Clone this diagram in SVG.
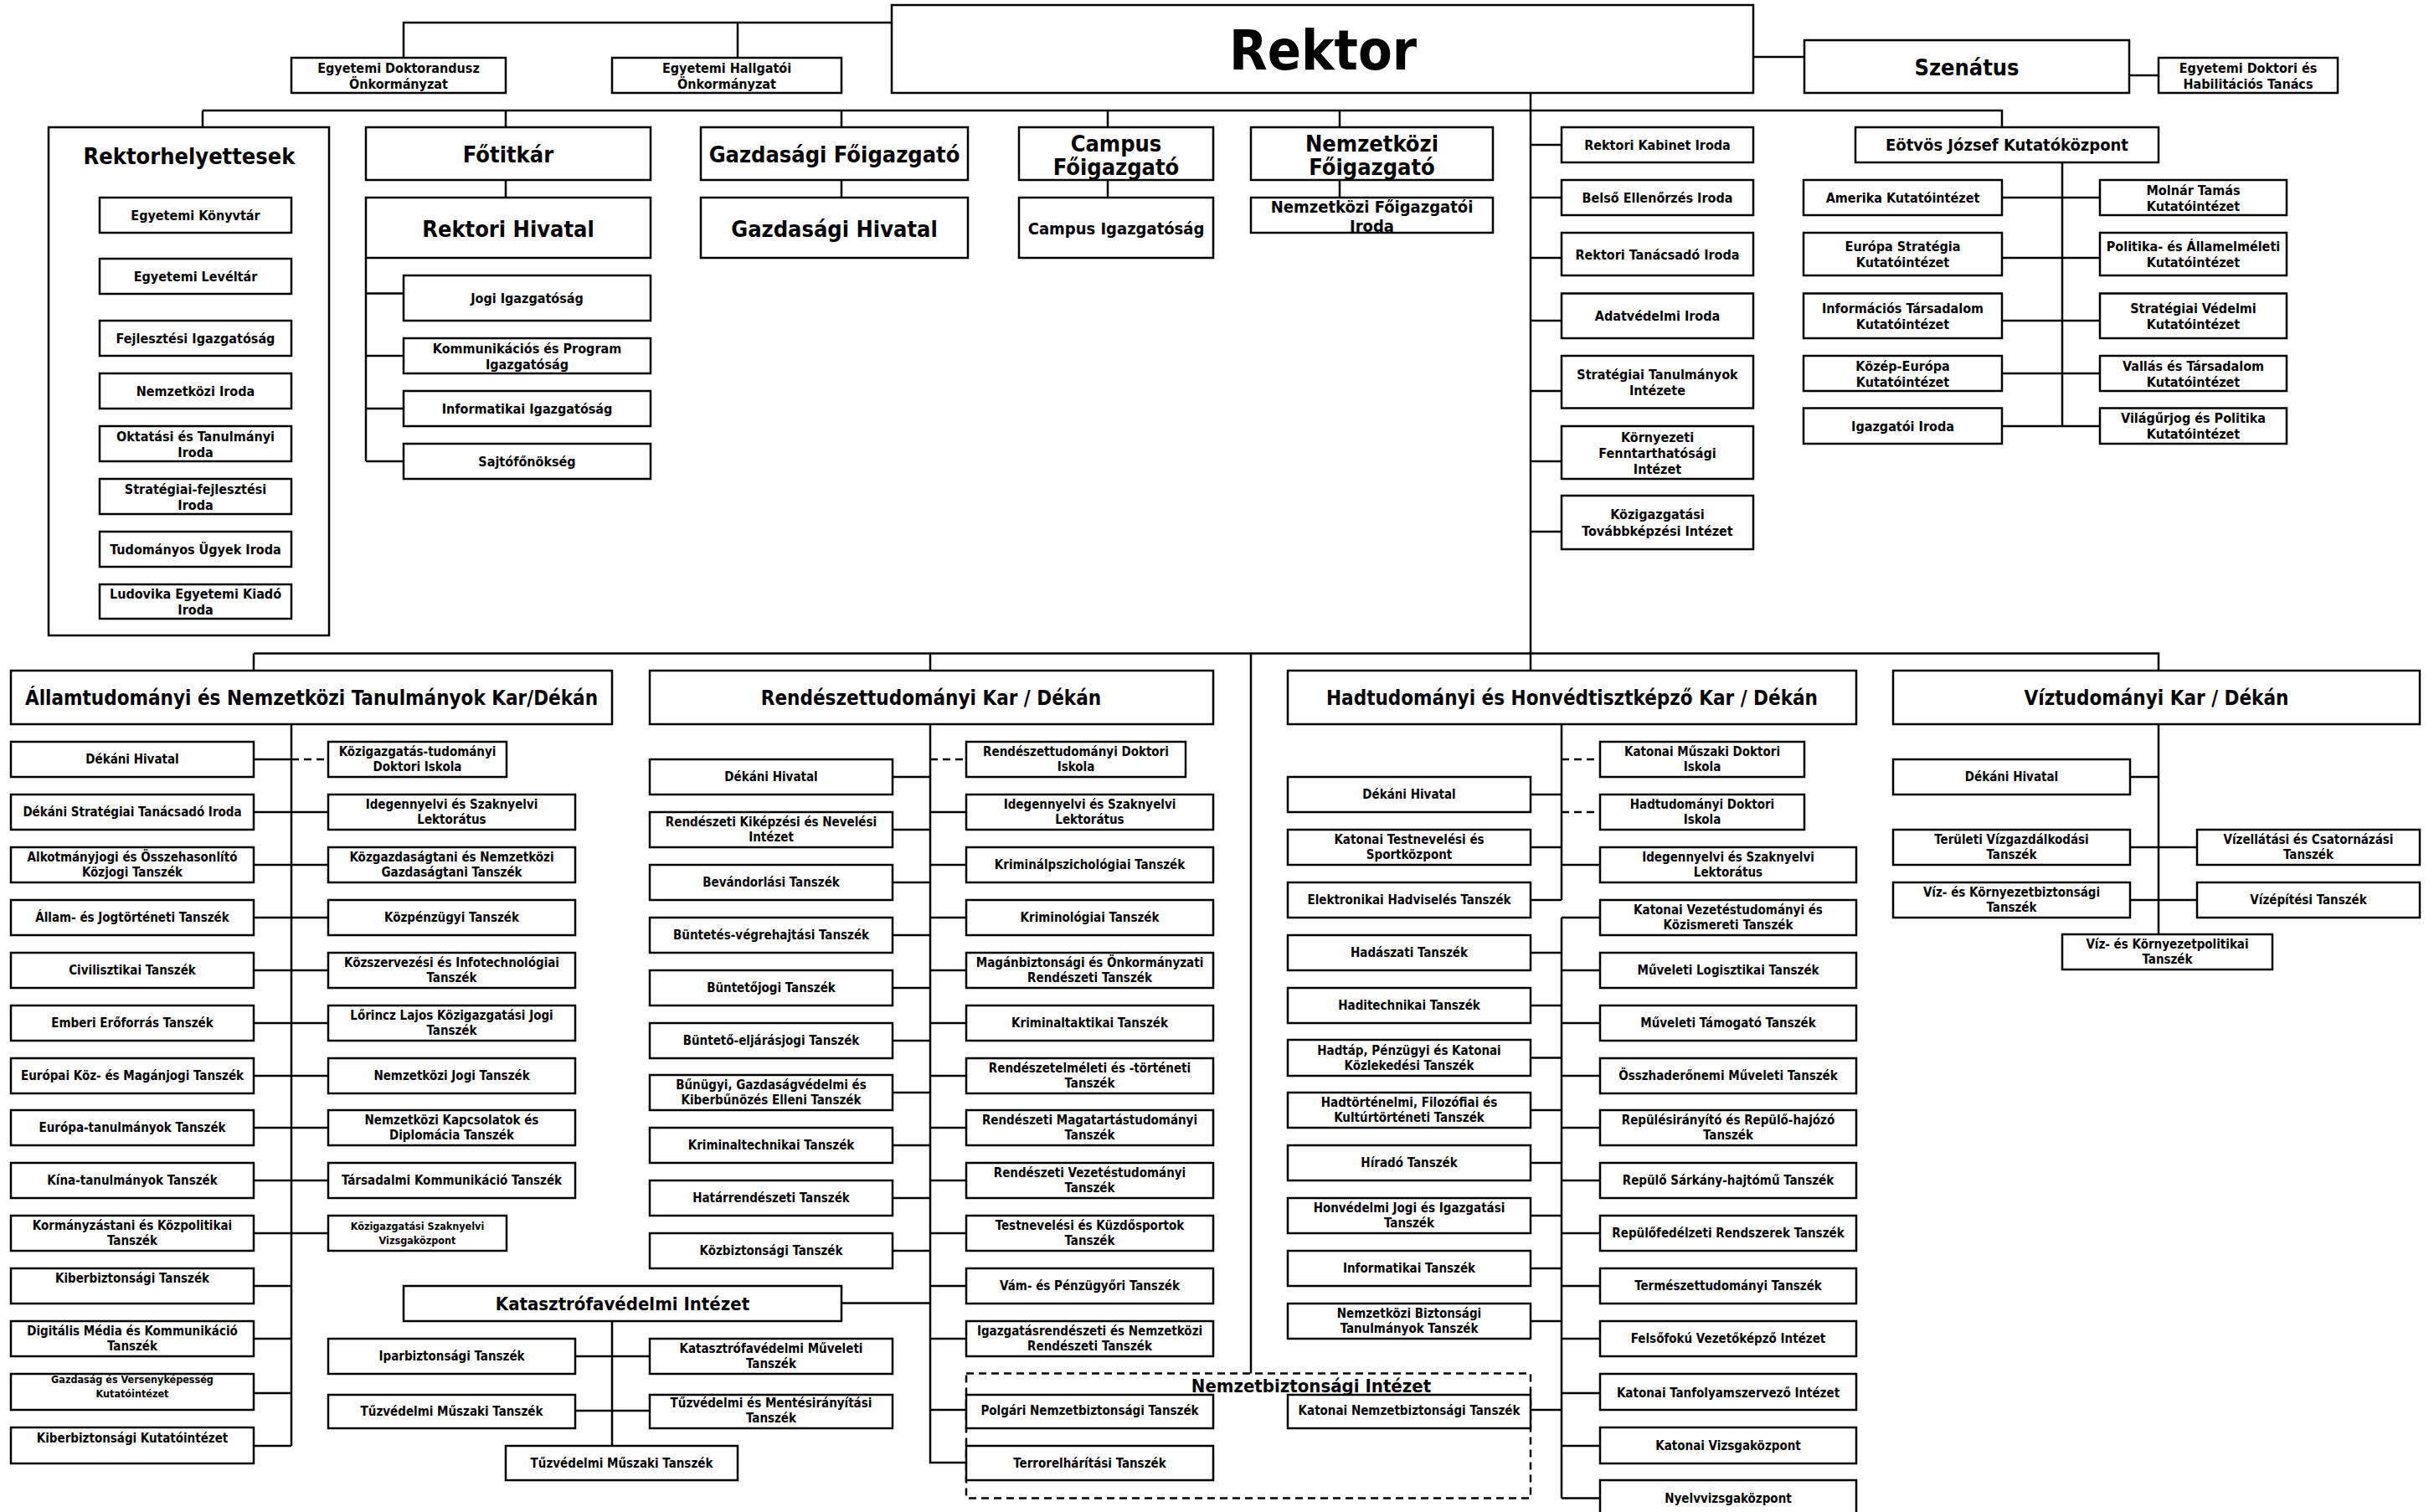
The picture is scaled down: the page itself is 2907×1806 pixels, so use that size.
<svg xmlns="http://www.w3.org/2000/svg" width="2907" height="1806" viewBox="0 0 2907 1806">
<style>
.b{fill:#fff;stroke:#000;stroke-width:2.5}
.c{fill:none;stroke:#000;stroke-width:2.5}
.d{fill:none;stroke:#000;stroke-width:2.5;stroke-dasharray:9 6}
text{font-family:"DejaVu Sans Condensed","DejaVu Sans",sans-serif;font-weight:bold;font-stretch:condensed;text-anchor:middle;dominant-baseline:central;fill:#000}
.h1{font-size:66px}.h2{font-size:27px}.h3{font-size:24px}.h4{font-size:22px}.m{font-size:20px}.s{font-size:16px}.f{font-size:15px}.xs{font-size:12.5px}
</style>
<rect width="2907" height="1806" fill="#fff"/>
<g id="connectors">
<path class="c" d="M482,69V27H1065M881,27V69M2094,68H2155M2543,90H2578M1828,111V801"/>
<path class="c" d="M242,132H2391V152M242,132V152M604,132V152M1005,132V152M1323,132V152M1600,132V152M604,215V236M1005,215V236M1323,215V236M1600,215V236"/>
<path class="c" d="M437,308V551M437,350.5H482M437,425H482M437,488H482M437,551H482"/>
<path class="c" d="M1828,173H1865M1828,236H1865M1828,308H1865M1828,383H1865M1828,467H1865M1828,551H1865M1828,635H1865"/>
<path class="c" d="M2463,194V509M2391,236H2508M2391,308H2508M2391,383H2508M2391,446H2508M2391,509H2508"/>
<path class="c" d="M303,780.5H2578V801M303,780.5V801M1111,780.5V801M1494,780.5V1640.5"/>
<path class="c" d="M348,865V1727M303,907H348M303,970H348M303,1033H348M303,1096H348M303,1159H348M303,1222H348M303,1285H348M303,1347H348M303,1410H348M303,1473H348M303,1536H348M303,1599H348M303,1664H348M303,1727H348"/>
<path class="c" d="M348,970H392M348,1033H392M348,1096H392M348,1159H392M348,1222H392M348,1285H392M348,1347H392M348,1410H392M348,1473H392"/>
<path class="d" d="M348,907H392"/>
<path class="c" d="M1005,1556.5H1111M731,1578V1727M687,1620H776M687,1685H776"/>
<path class="c" d="M1111,865V1747H1154M1066,928H1111M1066,991H1111M1066,1054H1111M1066,1117H1111M1066,1180H1111M1066,1243H1111M1066,1305H1111M1066,1368H1111M1066,1431H1111M1066,1494H1111"/>
<path class="c" d="M1111,970H1154M1111,1033H1154M1111,1096H1154M1111,1159H1154M1111,1222H1154M1111,1285H1154M1111,1347H1154M1111,1410H1154M1111,1473H1154M1111,1536H1154M1111,1599H1154M1111,1684H1154"/>
<path class="d" d="M1111,907H1154"/>
<path class="c" d="M1865,865V1075M1865,1096V1789.5M1828,949H1865M1828,1012H1865M1828,1075H1865M1828,1138H1865M1828,1201H1865M1828,1263.5H1865M1828,1326H1865M1828,1389H1865M1828,1452H1865M1828,1515H1865M1828,1578H1865M1828,1684H1865"/>
<path class="c" d="M1865,1033H1911M1865,1096H1911M1865,1159H1911M1865,1222H1911M1865,1285H1911M1865,1347H1911M1865,1410H1911M1865,1473H1911M1865,1536H1911M1865,1599H1911M1865,1664H1911M1865,1727H1911M1865,1789.5H1911"/>
<path class="d" d="M1865,907H1911M1865,970H1911"/>
<path class="c" d="M2578,865V1116M2544,928H2578M2544,1012H2624M2544,1075H2624"/>
</g>

<g id="n-doktorandusz"><rect class="b" x="348" y="69" width="256" height="42"/><text class="s"><tspan x="476" y="80.5">Egyetemi Doktorandusz</tspan><tspan x="476" y="99.5">Önkormányzat</tspan></text></g>
<g id="n-hallgatoi"><rect class="b" x="731" y="69" width="274" height="42"/><text class="s"><tspan x="868" y="80.5">Egyetemi Hallgatói</tspan><tspan x="868" y="99.5">Önkormányzat</tspan></text></g>
<g id="n-rektor"><rect class="b" x="1065" y="6" width="1029" height="105"/><text class="h1" x="1580" y="60">Rektor</text></g>
<g id="n-szenatus"><rect class="b" x="2155" y="48" width="388" height="63"/><text class="h2" x="2349" y="80">Szenátus</text></g>
<g id="n-edht"><rect class="b" x="2578" y="69" width="214" height="42"/><text class="s"><tspan x="2685" y="80.5">Egyetemi Doktori és</tspan><tspan x="2685" y="99.5">Habilitációs Tanács</tspan></text></g>

<g id="n-rektorhelyettesek"><rect class="b" x="58" y="152" width="335" height="607"/><text class="h2" x="226" y="186">Rektorhelyettesek</text>
<rect class="b" x="119" y="236" width="229" height="42"/><text class="s" x="233.5" y="257">Egyetemi Könyvtár</text>
<rect class="b" x="119" y="309" width="229" height="42"/><text class="s" x="233.5" y="330">Egyetemi Levéltár</text>
<rect class="b" x="119" y="383" width="229" height="42"/><text class="s" x="233.5" y="404">Fejlesztési Igazgatóság</text>
<rect class="b" x="119" y="446" width="229" height="42"/><text class="s" x="233.5" y="467">Nemzetközi Iroda</text>
<rect class="b" x="119" y="509" width="229" height="42"/><text class="s"><tspan x="233.5" y="520.5">Oktatási és Tanulmányi</tspan><tspan x="233.5" y="539.5">Iroda</tspan></text>
<rect class="b" x="119" y="572" width="229" height="42"/><text class="s"><tspan x="233.5" y="583.5">Stratégiai-fejlesztési</tspan><tspan x="233.5" y="602.5">Iroda</tspan></text>
<rect class="b" x="119" y="635" width="229" height="42"/><text class="s" x="233.5" y="656">Tudományos Ügyek Iroda</text>
<rect class="b" x="119" y="698" width="229" height="41"/><text class="s"><tspan x="233.5" y="709">Ludovika Egyetemi Kiadó</tspan><tspan x="233.5" y="728">Iroda</tspan></text>
</g>

<g id="n-fotitkar"><rect class="b" x="437" y="152" width="340" height="63"/><text class="h2" x="607" y="184">Főtitkár</text></g>
<g id="n-rektori-hivatal"><rect class="b" x="437" y="236" width="340" height="72"/><text class="h2" x="607" y="273">Rektori Hivatal</text></g>
<g id="n-jogi"><rect class="b" x="482" y="329" width="295" height="54"/><text class="s" x="629.5" y="356">Jogi Igazgatóság</text></g>
<g id="n-kommunikacios"><rect class="b" x="482" y="404" width="295" height="42"/><text class="s"><tspan x="629.5" y="415.5">Kommunikációs és Program</tspan><tspan x="629.5" y="434.5">Igazgatóság</tspan></text></g>
<g id="n-informatikai"><rect class="b" x="482" y="467" width="295" height="42"/><text class="s" x="629.5" y="488">Informatikai Igazgatóság</text></g>
<g id="n-sajto"><rect class="b" x="482" y="530" width="295" height="42"/><text class="s" x="629.5" y="551">Sajtófőnökség</text></g>

<g id="n-gazdasagi-foigazgato"><rect class="b" x="837" y="152" width="319" height="63"/><text class="h2" x="996.5" y="184">Gazdasági Főigazgató</text></g>
<g id="n-gazdasagi-hivatal"><rect class="b" x="837" y="236" width="319" height="72"/><text class="h2" x="996.5" y="273">Gazdasági Hivatal</text></g>
<g id="n-campus-foigazgato"><rect class="b" x="1217" y="152" width="232" height="63"/><text class="h2"><tspan x="1333" y="170.5">Campus</tspan><tspan x="1333" y="199">Főigazgató</tspan></text></g>
<g id="n-campus-igazgatosag"><rect class="b" x="1217" y="236" width="232" height="72"/><text class="m" x="1333" y="273">Campus Igazgatóság</text></g>
<g id="n-nemzetkozi-foigazgato"><rect class="b" x="1494" y="152" width="289" height="63"/><text class="h2"><tspan x="1638.5" y="170.5">Nemzetközi</tspan><tspan x="1638.5" y="199">Főigazgató</tspan></text></g>
<g id="n-nemzetkozi-iroda"><rect class="b" x="1494" y="236" width="289" height="42"/><text class="m"><tspan x="1638.5" y="247">Nemzetközi Főigazgatói</tspan><tspan x="1638.5" y="270">Iroda</tspan></text></g>

<g id="n-kabinet"><rect class="b" x="1865" y="152" width="229" height="42"/><text class="s" x="1979.5" y="173">Rektori Kabinet Iroda</text></g>
<g id="n-belso"><rect class="b" x="1865" y="215" width="229" height="42"/><text class="s" x="1979.5" y="236">Belső Ellenőrzés Iroda</text></g>
<g id="n-tanacsado"><rect class="b" x="1865" y="278" width="229" height="51"/><text class="s" x="1979.5" y="304">Rektori Tanácsadó Iroda</text></g>
<g id="n-adatvedelmi"><rect class="b" x="1865" y="350.5" width="229" height="53.5"/><text class="s" x="1979.5" y="377">Adatvédelmi Iroda</text></g>
<g id="n-strategiai-tanulmanyok"><rect class="b" x="1865" y="425" width="229" height="62.5"/><text class="s"><tspan x="1979.5" y="447">Stratégiai Tanulmányok</tspan><tspan x="1979.5" y="466">Intézete</tspan></text></g>
<g id="n-kornyezeti"><rect class="b" x="1865" y="509" width="229" height="63"/><text class="s"><tspan x="1979.5" y="521.5">Környezeti</tspan><tspan x="1979.5" y="540.5">Fenntarthatósági</tspan><tspan x="1979.5" y="559.5">Intézet</tspan></text></g>
<g id="n-kozigazgatasi-tovabbkepzesi"><rect class="b" x="1865" y="592" width="229" height="64"/><text class="s"><tspan x="1979.5" y="614">Közigazgatási</tspan><tspan x="1979.5" y="634">Továbbképzési Intézet</tspan></text></g>

<g id="n-eotvos"><rect class="b" x="2216" y="152" width="362" height="42"/><text class="m" x="2397" y="173">Eötvös József Kutatóközpont</text></g>
<g id="n-amerika"><rect class="b" x="2154" y="215" width="237" height="42"/><text class="s" x="2272.5" y="236">Amerika Kutatóintézet</text></g>
<g id="n-europa-strategia"><rect class="b" x="2154" y="278" width="237" height="51"/><text class="s"><tspan x="2272.5" y="294">Európa Stratégia</tspan><tspan x="2272.5" y="313">Kutatóintézet</tspan></text></g>
<g id="n-informacios"><rect class="b" x="2154" y="350.5" width="237" height="53.5"/><text class="s"><tspan x="2272.5" y="368">Információs Társadalom</tspan><tspan x="2272.5" y="387">Kutatóintézet</tspan></text></g>
<g id="n-kozep-europa"><rect class="b" x="2154" y="425" width="237" height="42"/><text class="s"><tspan x="2272.5" y="436.5">Közép-Európa</tspan><tspan x="2272.5" y="455.5">Kutatóintézet</tspan></text></g>
<g id="n-igazgatoi"><rect class="b" x="2154" y="487.5" width="237" height="42.5"/><text class="s" x="2272.5" y="509">Igazgatói Iroda</text></g>
<g id="n-molnar"><rect class="b" x="2508" y="215" width="223" height="42"/><text class="s"><tspan x="2619.5" y="226.5">Molnár Tamás</tspan><tspan x="2619.5" y="245.5">Kutatóintézet</tspan></text></g>
<g id="n-politika"><rect class="b" x="2508" y="278" width="223" height="51"/><text class="s"><tspan x="2619.5" y="294">Politika- és Államelméleti</tspan><tspan x="2619.5" y="313">Kutatóintézet</tspan></text></g>
<g id="n-strategiai-vedelmi"><rect class="b" x="2508" y="350.5" width="223" height="53.5"/><text class="s"><tspan x="2619.5" y="368">Stratégiai Védelmi</tspan><tspan x="2619.5" y="387">Kutatóintézet</tspan></text></g>
<g id="n-vallas"><rect class="b" x="2508" y="425" width="223" height="42"/><text class="s"><tspan x="2619.5" y="436.5">Vallás és Társadalom</tspan><tspan x="2619.5" y="455.5">Kutatóintézet</tspan></text></g>
<g id="n-vilagurjog"><rect class="b" x="2508" y="487.5" width="223" height="42.5"/><text class="s"><tspan x="2619.5" y="499">Világűrjog és Politika</tspan><tspan x="2619.5" y="518">Kutatóintézet</tspan></text></g>

<g id="f-allamtudomanyi"><rect class="b" x="13" y="801" width="718" height="64"/><text class="h3" x="372" y="834">Államtudományi és Nemzetközi Tanulmányok Kar/Dékán</text></g>
<g id="f1-l1"><rect class="b" x="13" y="886" width="290" height="42"/><text class="f" x="158" y="907">Dékáni Hivatal</text></g>
<g id="f1-l2"><rect class="b" x="13" y="949" width="290" height="42"/><text class="f" x="158" y="970">Dékáni Stratégiai Tanácsadó Iroda</text></g>
<g id="f1-l3"><rect class="b" x="13" y="1012" width="290" height="42"/><text class="f"><tspan x="158" y="1024">Alkotmányjogi és Összehasonlító</tspan><tspan x="158" y="1042">Közjogi Tanszék</tspan></text></g>
<g id="f1-l4"><rect class="b" x="13" y="1075" width="290" height="42"/><text class="f" x="158" y="1096">Állam- és Jogtörténeti Tanszék</text></g>
<g id="f1-l5"><rect class="b" x="13" y="1138" width="290" height="42"/><text class="f" x="158" y="1159">Civilisztikai Tanszék</text></g>
<g id="f1-l6"><rect class="b" x="13" y="1201" width="290" height="42"/><text class="f" x="158" y="1222">Emberi Erőforrás Tanszék</text></g>
<g id="f1-l7"><rect class="b" x="13" y="1264" width="290" height="42"/><text class="f" x="158" y="1285">Európai Köz- és Magánjogi Tanszék</text></g>
<g id="f1-l8"><rect class="b" x="13" y="1326" width="290" height="42"/><text class="f" x="158" y="1347">Európa-tanulmányok Tanszék</text></g>
<g id="f1-l9"><rect class="b" x="13" y="1389" width="290" height="42"/><text class="f" x="158" y="1410">Kína-tanulmányok Tanszék</text></g>
<g id="f1-l10"><rect class="b" x="13" y="1452" width="290" height="42"/><text class="f"><tspan x="158" y="1464">Kormányzástani és Közpolitikai</tspan><tspan x="158" y="1482">Tanszék</tspan></text></g>
<g id="f1-l11"><rect class="b" x="13" y="1515" width="290" height="42"/><text class="f" x="158" y="1527">Kiberbiztonsági Tanszék</text></g>
<g id="f1-l12"><rect class="b" x="13" y="1578" width="290" height="42"/><text class="f"><tspan x="158" y="1590">Digitális Média és Kommunikáció</tspan><tspan x="158" y="1608">Tanszék</tspan></text></g>
<g id="f1-l13"><rect class="b" x="13" y="1641" width="290" height="43"/><text class="xs"><tspan x="158" y="1647">Gazdaság és Versenyképesség</tspan><tspan x="158" y="1664">Kutatóintézet</tspan></text></g>
<g id="f1-l14"><rect class="b" x="13" y="1705" width="290" height="43"/><text class="f" x="158" y="1718">Kiberbiztonsági Kutatóintézet</text></g>
<g id="f1-r1"><rect class="b" x="392" y="886" width="213" height="42"/><text class="f"><tspan x="498.5" y="898">Közigazgatás-tudományi</tspan><tspan x="498.5" y="916">Doktori Iskola</tspan></text></g>
<g id="f1-r2"><rect class="b" x="392" y="949" width="295" height="42"/><text class="f"><tspan x="539.5" y="961">Idegennyelvi és Szaknyelvi</tspan><tspan x="539.5" y="979">Lektorátus</tspan></text></g>
<g id="f1-r3"><rect class="b" x="392" y="1012" width="295" height="42"/><text class="f"><tspan x="539.5" y="1024">Közgazdaságtani és Nemzetközi</tspan><tspan x="539.5" y="1042">Gazdaságtani Tanszék</tspan></text></g>
<g id="f1-r4"><rect class="b" x="392" y="1075" width="295" height="42"/><text class="f" x="539.5" y="1096">Közpénzügyi Tanszék</text></g>
<g id="f1-r5"><rect class="b" x="392" y="1138" width="295" height="42"/><text class="f"><tspan x="539.5" y="1150">Közszervezési és Infotechnológiai</tspan><tspan x="539.5" y="1168">Tanszék</tspan></text></g>
<g id="f1-r6"><rect class="b" x="392" y="1201" width="295" height="42"/><text class="f"><tspan x="539.5" y="1213">Lőrincz Lajos Közigazgatási Jogi</tspan><tspan x="539.5" y="1231">Tanszék</tspan></text></g>
<g id="f1-r7"><rect class="b" x="392" y="1264" width="295" height="42"/><text class="f" x="539.5" y="1285">Nemzetközi Jogi Tanszék</text></g>
<g id="f1-r8"><rect class="b" x="392" y="1326" width="295" height="42"/><text class="f"><tspan x="539.5" y="1338">Nemzetközi Kapcsolatok és</tspan><tspan x="539.5" y="1356">Diplomácia Tanszék</tspan></text></g>
<g id="f1-r9"><rect class="b" x="392" y="1389" width="295" height="42"/><text class="f" x="539.5" y="1410">Társadalmi Kommunikáció Tanszék</text></g>
<g id="f1-r10"><rect class="b" x="392" y="1452" width="213" height="42"/><text class="xs"><tspan x="498.5" y="1464">Közigazgatási Szaknyelvi</tspan><tspan x="498.5" y="1481">Vizsgaközpont</tspan></text></g>

<g id="n-katasztrofavedelmi"><rect class="b" x="482" y="1536" width="523" height="42"/><text class="h4" x="743.5" y="1557">Katasztrófavédelmi Intézet</text></g>
<g id="k-ipar"><rect class="b" x="392" y="1599" width="295" height="42"/><text class="f" x="539.5" y="1620">Iparbiztonsági Tanszék</text></g>
<g id="k-tuz1"><rect class="b" x="392" y="1666" width="295" height="40"/><text class="f" x="539.5" y="1686">Tűzvédelmi Műszaki Tanszék</text></g>
<g id="k-muveleti"><rect class="b" x="776" y="1599" width="290" height="42"/><text class="f"><tspan x="921" y="1611">Katasztrófavédelmi Műveleti</tspan><tspan x="921" y="1629">Tanszék</tspan></text></g>
<g id="k-mentes"><rect class="b" x="776" y="1666" width="290" height="40"/><text class="f"><tspan x="921" y="1676">Tűzvédelmi és Mentésirányítási</tspan><tspan x="921" y="1694">Tanszék</tspan></text></g>
<g id="k-tuz2"><rect class="b" x="604" y="1727" width="277" height="41"/><text class="f" x="742.5" y="1747.5">Tűzvédelmi Műszaki Tanszék</text></g>

<g id="f-rendeszet"><rect class="b" x="776" y="801" width="673" height="64"/><text class="h3" x="1112" y="834">Rendészettudományi Kar / Dékán</text></g>
<g id="f2-l1"><rect class="b" x="776" y="907" width="290" height="42"/><text class="f" x="921" y="928">Dékáni Hivatal</text></g>
<g id="f2-l2"><rect class="b" x="776" y="970" width="290" height="42"/><text class="f"><tspan x="921" y="982">Rendészeti Kiképzési és Nevelési</tspan><tspan x="921" y="1000">Intézet</tspan></text></g>
<g id="f2-l3"><rect class="b" x="776" y="1033" width="290" height="42"/><text class="f" x="921" y="1054">Bevándorlási Tanszék</text></g>
<g id="f2-l4"><rect class="b" x="776" y="1096" width="290" height="42"/><text class="f" x="921" y="1117">Büntetés-végrehajtási Tanszék</text></g>
<g id="f2-l5"><rect class="b" x="776" y="1159" width="290" height="42"/><text class="f" x="921" y="1180">Büntetőjogi Tanszék</text></g>
<g id="f2-l6"><rect class="b" x="776" y="1222" width="290" height="42"/><text class="f" x="921" y="1243">Büntető-eljárásjogi Tanszék</text></g>
<g id="f2-l7"><rect class="b" x="776" y="1284" width="290" height="42"/><text class="f"><tspan x="921" y="1296">Bűnügyi, Gazdaságvédelmi és</tspan><tspan x="921" y="1314">Kiberbűnözés Elleni Tanszék</tspan></text></g>
<g id="f2-l8"><rect class="b" x="776" y="1347" width="290" height="42"/><text class="f" x="921" y="1368">Kriminaltechnikai Tanszék</text></g>
<g id="f2-l9"><rect class="b" x="776" y="1410" width="290" height="42"/><text class="f" x="921" y="1431">Határrendészeti Tanszék</text></g>
<g id="f2-l10"><rect class="b" x="776" y="1473" width="290" height="42"/><text class="f" x="921" y="1494">Közbiztonsági Tanszék</text></g>
<g id="f2-r1"><rect class="b" x="1154" y="886" width="262" height="42"/><text class="f"><tspan x="1285" y="898">Rendészettudományi Doktori</tspan><tspan x="1285" y="916">Iskola</tspan></text></g>
<g id="f2-r2"><rect class="b" x="1154" y="949" width="295" height="42"/><text class="f"><tspan x="1301.5" y="961">Idegennyelvi és Szaknyelvi</tspan><tspan x="1301.5" y="979">Lektorátus</tspan></text></g>
<g id="f2-r3"><rect class="b" x="1154" y="1012" width="295" height="42"/><text class="f" x="1301.5" y="1033">Kriminálpszichológiai Tanszék</text></g>
<g id="f2-r4"><rect class="b" x="1154" y="1075" width="295" height="42"/><text class="f" x="1301.5" y="1096">Kriminológiai Tanszék</text></g>
<g id="f2-r5"><rect class="b" x="1154" y="1138" width="295" height="42"/><text class="f"><tspan x="1301.5" y="1150">Magánbiztonsági és Önkormányzati</tspan><tspan x="1301.5" y="1168">Rendészeti Tanszék</tspan></text></g>
<g id="f2-r6"><rect class="b" x="1154" y="1201" width="295" height="42"/><text class="f" x="1301.5" y="1222">Kriminaltaktikai Tanszék</text></g>
<g id="f2-r7"><rect class="b" x="1154" y="1264" width="295" height="42"/><text class="f"><tspan x="1301.5" y="1276">Rendészetelméleti és -történeti</tspan><tspan x="1301.5" y="1294">Tanszék</tspan></text></g>
<g id="f2-r8"><rect class="b" x="1154" y="1326" width="295" height="42"/><text class="f"><tspan x="1301.5" y="1338">Rendészeti Magatartástudományi</tspan><tspan x="1301.5" y="1356">Tanszék</tspan></text></g>
<g id="f2-r9"><rect class="b" x="1154" y="1389" width="295" height="42"/><text class="f"><tspan x="1301.5" y="1401">Rendészeti Vezetéstudományi</tspan><tspan x="1301.5" y="1419">Tanszék</tspan></text></g>
<g id="f2-r10"><rect class="b" x="1154" y="1452" width="295" height="42"/><text class="f"><tspan x="1301.5" y="1464">Testnevelési és Küzdősportok</tspan><tspan x="1301.5" y="1482">Tanszék</tspan></text></g>
<g id="f2-r11"><rect class="b" x="1154" y="1515" width="295" height="42"/><text class="f" x="1301.5" y="1536">Vám- és Pénzügyőri Tanszék</text></g>
<g id="f2-r12"><rect class="b" x="1154" y="1578" width="295" height="42"/><text class="f"><tspan x="1301.5" y="1590">Igazgatásrendészeti és Nemzetközi</tspan><tspan x="1301.5" y="1608">Rendészeti Tanszék</tspan></text></g>

<g id="n-nemzetbiztonsagi"><rect class="d" x="1154" y="1640.5" width="674" height="149"/><text class="h4" x="1566" y="1655">Nemzetbiztonsági Intézet</text></g>
<g id="nb-polgari"><rect class="b" x="1154" y="1666" width="295" height="40"/><text class="f" x="1301.5" y="1685">Polgári Nemzetbiztonsági Tanszék</text></g>
<g id="nb-terror"><rect class="b" x="1154" y="1727" width="295" height="41"/><text class="f" x="1301.5" y="1747.5">Terrorelhárítási Tanszék</text></g>
<g id="nb-katonai"><rect class="b" x="1538" y="1666" width="290" height="40"/><text class="f" x="1683" y="1685">Katonai Nemzetbiztonsági Tanszék</text></g>

<g id="f-hadtudomanyi"><rect class="b" x="1538" y="801" width="679" height="64"/><text class="h3" x="1877.5" y="834">Hadtudományi és Honvédtisztképző Kar / Dékán</text></g>
<g id="f3-l1"><rect class="b" x="1538" y="928" width="290" height="42"/><text class="f" x="1683" y="949">Dékáni Hivatal</text></g>
<g id="f3-l2"><rect class="b" x="1538" y="991" width="290" height="42"/><text class="f"><tspan x="1683" y="1003">Katonai Testnevelési és</tspan><tspan x="1683" y="1021">Sportközpont</tspan></text></g>
<g id="f3-l3"><rect class="b" x="1538" y="1054" width="290" height="42"/><text class="f" x="1683" y="1075">Elektronikai Hadviselés Tanszék</text></g>
<g id="f3-l4"><rect class="b" x="1538" y="1117" width="290" height="42"/><text class="f" x="1683" y="1138">Hadászati Tanszék</text></g>
<g id="f3-l5"><rect class="b" x="1538" y="1180" width="290" height="42"/><text class="f" x="1683" y="1201">Haditechnikai Tanszék</text></g>
<g id="f3-l6"><rect class="b" x="1538" y="1242" width="290" height="43"/><text class="f"><tspan x="1683" y="1255">Hadtáp, Pénzügyi és Katonai</tspan><tspan x="1683" y="1273">Közlekedési Tanszék</tspan></text></g>
<g id="f3-l7"><rect class="b" x="1538" y="1305" width="290" height="42"/><text class="f"><tspan x="1683" y="1317">Hadtörténelmi, Filozófiai és</tspan><tspan x="1683" y="1335">Kultúrtörténeti Tanszék</tspan></text></g>
<g id="f3-l8"><rect class="b" x="1538" y="1368" width="290" height="42"/><text class="f" x="1683" y="1389">Híradó Tanszék</text></g>
<g id="f3-l9"><rect class="b" x="1538" y="1431" width="290" height="42"/><text class="f"><tspan x="1683" y="1443">Honvédelmi Jogi és Igazgatási</tspan><tspan x="1683" y="1461">Tanszék</tspan></text></g>
<g id="f3-l10"><rect class="b" x="1538" y="1494" width="290" height="42"/><text class="f" x="1683" y="1515">Informatikai Tanszék</text></g>
<g id="f3-l11"><rect class="b" x="1538" y="1557" width="290" height="42"/><text class="f"><tspan x="1683" y="1569">Nemzetközi Biztonsági</tspan><tspan x="1683" y="1587">Tanulmányok Tanszék</tspan></text></g>
<g id="f3-r1"><rect class="b" x="1911" y="886" width="244" height="42"/><text class="f"><tspan x="2033" y="898">Katonai Műszaki Doktori</tspan><tspan x="2033" y="916">Iskola</tspan></text></g>
<g id="f3-r2"><rect class="b" x="1911" y="949" width="244" height="42"/><text class="f"><tspan x="2033" y="961">Hadtudományi Doktori</tspan><tspan x="2033" y="979">Iskola</tspan></text></g>
<g id="f3-r3"><rect class="b" x="1911" y="1012" width="306" height="42"/><text class="f"><tspan x="2064" y="1024">Idegennyelvi és Szaknyelvi</tspan><tspan x="2064" y="1042">Lektorátus</tspan></text></g>
<g id="f3-r4"><rect class="b" x="1911" y="1075" width="306" height="42"/><text class="f"><tspan x="2064" y="1087">Katonai Vezetéstudományi és</tspan><tspan x="2064" y="1105">Közismereti Tanszék</tspan></text></g>
<g id="f3-r5"><rect class="b" x="1911" y="1138" width="306" height="42"/><text class="f" x="2064" y="1159">Műveleti Logisztikai Tanszék</text></g>
<g id="f3-r6"><rect class="b" x="1911" y="1201" width="306" height="42"/><text class="f" x="2064" y="1222">Műveleti Támogató Tanszék</text></g>
<g id="f3-r7"><rect class="b" x="1911" y="1264" width="306" height="42"/><text class="f" x="2064" y="1285">Összhaderőnemi Műveleti Tanszék</text></g>
<g id="f3-r8"><rect class="b" x="1911" y="1326" width="306" height="42"/><text class="f"><tspan x="2064" y="1338">Repülésirányító és Repülő-hajózó</tspan><tspan x="2064" y="1356">Tanszék</tspan></text></g>
<g id="f3-r9"><rect class="b" x="1911" y="1389" width="306" height="42"/><text class="f" x="2064" y="1410">Repülő Sárkány-hajtómű Tanszék</text></g>
<g id="f3-r10"><rect class="b" x="1911" y="1452" width="306" height="42"/><text class="f" x="2064" y="1473">Repülőfedélzeti Rendszerek Tanszék</text></g>
<g id="f3-r11"><rect class="b" x="1911" y="1515" width="306" height="42"/><text class="f" x="2064" y="1536">Természettudományi Tanszék</text></g>
<g id="f3-r12"><rect class="b" x="1911" y="1578" width="306" height="42"/><text class="f" x="2064" y="1599">Felsőfokú Vezetőképző Intézet</text></g>
<g id="f3-r13"><rect class="b" x="1911" y="1641" width="306" height="43"/><text class="f" x="2064" y="1664">Katonai Tanfolyamszervező Intézet</text></g>
<g id="f3-r14"><rect class="b" x="1911" y="1705" width="306" height="43"/><text class="f" x="2064" y="1727">Katonai Vizsgaközpont</text></g>
<g id="f3-r15"><rect class="b" x="1911" y="1768" width="306" height="45"/><text class="f" x="2064" y="1789.5">Nyelvvizsgaközpont</text></g>

<g id="f-viztudomanyi"><rect class="b" x="2261" y="801" width="629" height="64"/><text class="h3" x="2575.5" y="834">Víztudományi Kar / Dékán</text></g>
<g id="f4-dekani"><rect class="b" x="2261" y="907" width="283" height="42"/><text class="f" x="2402.5" y="928">Dékáni Hivatal</text></g>
<g id="f4-teruleti"><rect class="b" x="2261" y="991" width="283" height="42"/><text class="f"><tspan x="2402.5" y="1003">Területi Vízgazdálkodási</tspan><tspan x="2402.5" y="1021">Tanszék</tspan></text></g>
<g id="f4-kornyezetbiztonsagi"><rect class="b" x="2261" y="1054" width="283" height="42"/><text class="f"><tspan x="2402.5" y="1066">Víz- és Környezetbiztonsági</tspan><tspan x="2402.5" y="1084">Tanszék</tspan></text></g>
<g id="f4-vizellatasi"><rect class="b" x="2624" y="991" width="266" height="42"/><text class="f"><tspan x="2757" y="1003">Vízellátási és Csatornázási</tspan><tspan x="2757" y="1021">Tanszék</tspan></text></g>
<g id="f4-vizepitesi"><rect class="b" x="2624" y="1054" width="266" height="42"/><text class="f" x="2757" y="1075">Vízépítési Tanszék</text></g>
<g id="f4-politikai"><rect class="b" x="2463" y="1116" width="251" height="42"/><text class="f"><tspan x="2588.5" y="1128">Víz- és Környezetpolitikai</tspan><tspan x="2588.5" y="1146">Tanszék</tspan></text></g>
</svg>
